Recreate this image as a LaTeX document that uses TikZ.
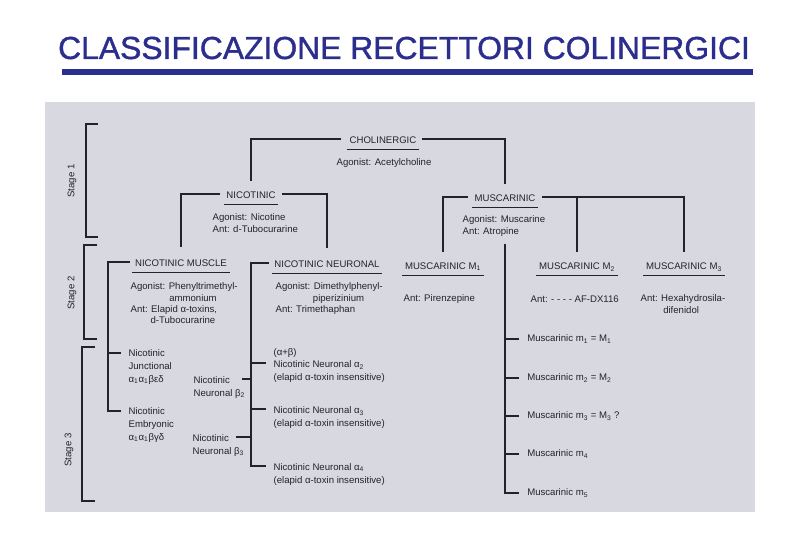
\documentclass[tikz,border=0pt]{standalone}
\usepackage{fontspec}
\setmainfont{Liberation Sans}
\newfontfamily\titlefont[FakeBold=1.2]{Liberation Sans}
\usetikzlibrary{calc}
\definecolor{titleblue}{RGB}{44,46,142}
\definecolor{scangray}{RGB}{216,216,224}
\definecolor{ink}{RGB}{35,35,40}
\tikzset{
hdr/.style={
	font=\fontsize{7.2}{8.6}\selectfont,
	text=ink,
	inner xsep=2pt,
	inner ysep=3pt,
	text height=1.55ex,
	text depth=0.25ex
},
txt/.style={
	font=\fontsize{7.2}{8.6}\selectfont,
	text=ink,
	align=left,
	inner sep=1pt
},
txtwide/.style={
	txt,
	font=\fontsize{7.2}{9.6}\selectfont
},
mtxt/.style={
	txt,
	anchor=west,
	inner xsep=6pt
},
stage/.style={
	font=\fontsize{7.2}{8.6}\selectfont,
	text=ink,
	rotate=90
},
tree/.style={
	draw=ink,
	line width=0.9pt
},
uline/.style={
	draw=ink,
	line width=1.1pt
},
bracket/.style={
	draw=ink,
	line width=1.3pt
}
}

\begin{document}
\begin{tikzpicture}[x=0.75pt, y=-0.75pt]
\useasboundingbox (0,0) rectangle (810,540);

% title and scanned sheet
\node (title) [font=\titlefont\fontsize{23.9}{28}\selectfont, text=titleblue] at (404,48) {CLASSIFICAZIONE RECETTORI COLINERGICI};
\fill[titleblue] (62,69) rectangle (753,75);
\fill[scangray] (45,102) rectangle (755,512);

% stage brackets
\node (st1) [stage] at (72,181) {Stage 1};
\node (st2) [stage] at (72,293) {Stage 2};
\node (st3) [stage] at (69,450) {Stage 3};
\draw[bracket] (98,124) -| (86,237) -- (98,237);
\draw[bracket] (97,245) -| (84,339) -- (97,339);
\draw[bracket] (95,347) -| (82,501) -- (95,501);

% stage 1
\node (chol) [hdr] at (383,139) {CHOLINERGIC};
\node (cholag) [txt, anchor=west] at (335,163) {Agonist: Acetylcholine};
\node (nic) [hdr] at (251,194) {NICOTINIC};
\node (nicag) [txt, anchor=north west] at (211,212) {Agonist: Nicotine\\Ant: d-Tubocurarine};
\node (musc) [hdr] at (505,197) {MUSCARINIC};
\node (muscag) [txt, anchor=north west] at (461,214) {Agonist: Muscarine\\Ant: Atropine};

\draw[tree, shorten <=4pt, shorten >=2pt] (chol.west) -| (nic.north);
\draw[tree, shorten <=2pt, shorten >=2pt] (chol.east) -| (musc.north);

% stage 2
\node (nicmus) [hdr] at (181,262) {NICOTINIC MUSCLE};
\node (nicmusag) [txt, anchor=north west] at (129,281) {Agonist: Phenyltrimethyl-\\\hspace*{29pt}ammonium\\Ant: Elapid α-toxins,\\\hspace*{15pt}d-Tubocurarine};
\node (nicneu) [hdr] at (327,263) {NICOTINIC NEURONAL};
\node (nicneuag) [txt, anchor=north west] at (274,281) {Agonist: Dimethylphenyl-\\\hspace*{28pt}piperizinium\\Ant: Trimethaphan};
\node (m1) [hdr] at (443,265) {MUSCARINIC M\textsubscript{1}};
\node (m1ant) [txt, anchor=west] at (402,299) {Ant: Pirenzepine};
\node (m2) [hdr] at (577,265) {MUSCARINIC M\textsubscript{2}};
\node (m2ant) [txt, anchor=west] at (529,299) {Ant: - - - - AF-DX116};
\node (m3) [hdr] at (684,265) {MUSCARINIC M\textsubscript{3}};
\node (m3ant) [txt, anchor=north west] at (639,293) {Ant: Hexahydrosila-\\\hspace*{17pt}difenidol};

\foreach \h in {chol,nic,musc,nicmus,nicneu,m1,m2,m3}
  \draw[uline] (\h.south west) -- (\h.south east);

\draw[tree, shorten <=3pt, shorten >=3pt] (nic.west) -| (nicmus.north);
\draw[tree, shorten <=3pt, shorten >=3pt] (nic.east) -| (nicneu.north);
\draw[tree, shorten <=3pt, shorten >=2pt] (musc.west) -| (m1.north);
\draw[tree, shorten <=3pt, shorten >=2pt] (musc.east) -| (m3.north);
\draw[tree, shorten >=2pt] (m2.north |- musc.east) -- (m2.north);

% stage 3, nicotinic muscle
\node (junc) [txtwide, anchor=north west] at (127,348) {Nicotinic\\Junctional\\α\textsubscript{1}α\textsubscript{1}βεδ};
\node (embr) [txtwide, anchor=north west] at (127,406) {Nicotinic\\Embryonic\\α\textsubscript{1}α\textsubscript{1}βγδ};
\coordinate (muspine) at (108,262);
\coordinate (junct) at ([shift={(-6,5)}]junc.north west);
\coordinate (embrt) at ([shift={(-6,5)}]embr.north west);
\draw[tree, shorten <=2pt] (nicmus.west) -- (muspine) |- (embrt);
\draw[tree] (junct) -- (junct -| muspine);

% stage 3, nicotinic neuronal
\node (b2) [txtwide, anchor=north west] at (192,375) {Nicotinic\\Neuronal β\textsubscript{2}};
\node (b3) [txtwide, anchor=north west] at (191,433) {Nicotinic\\Neuronal β\textsubscript{3}};
\node (ab) [txt, anchor=west] at (272,353) {(α+β)};
\node (a2) [txtwide, anchor=north west] at (272,359) {Nicotinic Neuronal α\textsubscript{2}\\(elapid α-toxin insensitive)};
\node (a3) [txtwide, anchor=north west] at (272,405) {Nicotinic Neuronal α\textsubscript{3}\\(elapid α-toxin insensitive)};
\node (a4) [txtwide, anchor=north west] at (272,462) {Nicotinic Neuronal α\textsubscript{4}\\(elapid α-toxin insensitive)};
\coordinate (neuspine) at (251,263);
\coordinate (a2t) at ([shift={(-6,4)}]a2.north west);
\coordinate (a3t) at ([shift={(-6,4)}]a3.north west);
\coordinate (a4t) at ([shift={(-6,4)}]a4.north west);
\coordinate (b2t) at ([shift={(-5,4)}]b2.north east);
\coordinate (b3t) at ([shift={(-10,4)}]b3.north east);
\draw[tree, shorten <=2pt] (nicneu.west) -- (neuspine) |- (a4t);
\draw[tree] (a2t) -- (a2t -| neuspine);
\draw[tree] (a3t) -- (a3t -| neuspine);
\draw[tree] (b2t) -- (b2t -| neuspine);
\draw[tree] (b3t) -- (b3t -| neuspine);

% stage 3, muscarinic
\node (mm1) [mtxt] at (519,339) {Muscarinic m\textsubscript{1} = M\textsubscript{1}};
\node (mm2) [mtxt] at (519,378) {Muscarinic m\textsubscript{2} = M\textsubscript{2}};
\node (mm3) [mtxt] at (519,416) {Muscarinic m\textsubscript{3} = M\textsubscript{3} ?};
\node (mm4) [mtxt] at (519,454) {Muscarinic m\textsubscript{4}};
\node (mm5) [mtxt] at (519,493) {Muscarinic m\textsubscript{5}};
\draw[tree, shorten <=4.5pt] (muscag.south -| musc) |- (mm5.west);
\foreach \i in {1,...,4}
  \draw[tree] (mm\i.west) -- (mm\i.west -| musc);

\end{tikzpicture}
\end{document}
